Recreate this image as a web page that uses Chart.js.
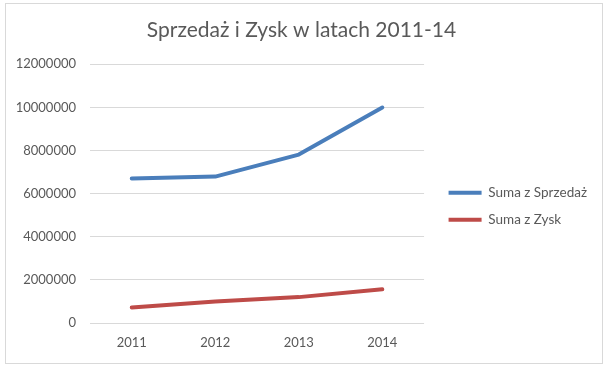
<!DOCTYPE html>
<html>
<head>
<meta charset="utf-8">
<script src="https://cdn.jsdelivr.net/npm/chart.js@4"></script>
<style>
  html, body { margin: 0; padding: 0; background: #fff; }
  #box {
    position: absolute; left: 5px; top: 3px;
    width: 598px; height: 361px;
    border: 1px solid #d9d9d9; box-sizing: border-box;
  }
</style>
</head>
<body>
<div id="box"><canvas id="chart" width="596" height="359"></canvas></div>
<script>
// dane z wykresu
const years = ['2011', '2012', '2013', '2014'];
const sprzedaz = [6700000, 6790000, 7810000, 9990000];
const zysk = [720000, 1000000, 1200000, 1560000];
const yTicks = [0, 2000000, 4000000, 6000000, 8000000, 10000000, 12000000];

const gray = '#595959';
const font = 'Lato, "Open Sans", sans-serif';

const ctx = document.getElementById('chart').getContext('2d');

new Chart(ctx, {
  type: 'line',
  data: {
    labels: years,
    datasets: [{
      label: 'Suma z Sprzedaż',
      data: sprzedaz,
      borderColor: '#4a7ebb',
      backgroundColor: '#4a7ebb',
      borderWidth: 4,
      pointRadius: 0,
      tension: 0,
      borderCapStyle: 'round',
      borderJoinStyle: 'round'
    }, {
      label: 'Suma z Zysk',
      data: zysk,
      borderColor: '#be4b48',
      backgroundColor: '#be4b48',
      borderWidth: 4,
      pointRadius: 0,
      tension: 0,
      borderCapStyle: 'round',
      borderJoinStyle: 'round'
    }]
  },
  options: {
    responsive: false,
    animation: false,
    layout: { padding: { left: 0, right: 5, bottom: 0 } },
    plugins: {
      title: {
        display: true,
        text: 'Sprzedaż i Zysk w latach 2011-14',
        color: gray,
        font: { family: font, size: 21, weight: 'normal' },
        padding: { top: 14, bottom: 21 }
      },
      legend: {
        position: 'right',
        maxWidth: 220,
        // pusty tytuł tylko po to, żeby zsunąć legendę w dół
        title: { display: true, text: '', padding: 0, font: { size: 38 } },
        labels: {
          color: gray,
          font: { family: font, size: 13.5 },
          boxWidth: 33,
          boxHeight: 4,
          padding: 13.5,
          generateLabels: (chart) => {
            const items = Chart.defaults.plugins.legend.labels.generateLabels(chart);
            items.forEach(it => { it.lineWidth = 0; });
            return items;
          }
        }
      },
      tooltip: { enabled: false }
    },
    scales: {
      x: {
        offset: true,
        grid: { display: false, drawTicks: false },
        border: { display: false },
        ticks: { color: gray, font: { family: font, size: 13 }, padding: 12 },
        afterFit: (scale) => { scale.height = 40; }
      },
      y: {
        min: 0,
        max: 12000000,
        afterBuildTicks: (scale) => { scale.ticks = yTicks.map(v => ({ value: v })); },
        grid: { color: '#d9d9d9', drawTicks: false },
        border: { display: false },
        ticks: {
          color: gray,
          font: { family: font, size: 13 },
          padding: 14,
          callback: (v) => String(v)
        },
        afterFit: (scale) => { scale.width = 84; }
      },
      // pusta oś - odstęp między wykresem a legendą
      spacer: {
        position: 'right',
        display: true,
        grid: { display: false, drawTicks: false },
        border: { display: false },
        ticks: { display: false },
        afterFit: (scale) => { scale.width = 11; }
      }
    }
  }
});
</script>
</body>
</html>
